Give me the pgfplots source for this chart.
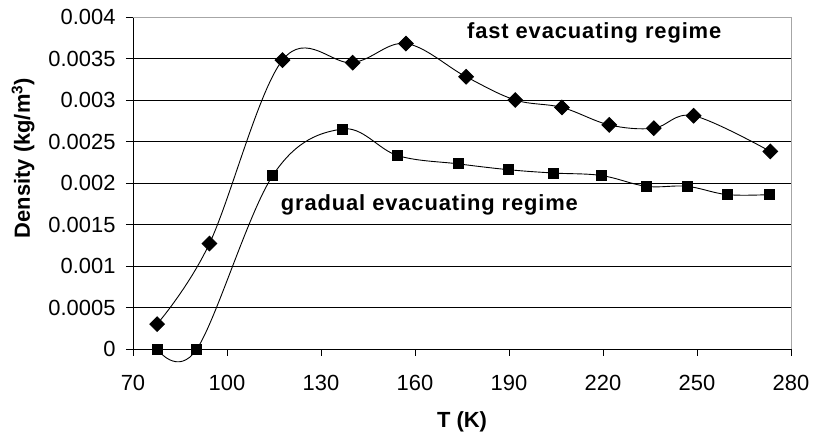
\documentclass[border=0pt]{standalone}
\usepackage{pgfplots}
\usepackage{pgfplotstable}
\pgfplotsset{compat=1.18}
\usepackage{fontspec}
\setmainfont{Liberation Sans}
\newfontfamily\annfont[LetterSpace=4]{Liberation Sans}
\usetikzlibrary{calc}

% fast evacuating regime (diamonds)
\pgfplotstableread{
T rho
77.7 0.00030
94.4 0.00127
117.7 0.00348
140.1 0.00345
157.1 0.00368
176.3 0.00328
192.0 0.00300
206.9 0.00291
222.0 0.00270
236.2 0.00266
248.9 0.00281
273.4 0.00238
}\fast

% gradual evacuating regime (squares)
\pgfplotstableread{
T rho
77.7 0
90.4 0
114.6 0.00209
136.7 0.00265
154.5 0.00233
173.9 0.00223
189.9 0.00216
204.2 0.00212
219.5 0.00209
233.8 0.00196
246.8 0.00196
259.6 0.00186
273.1 0.00186
}\gradual

\begin{document}
\begin{tikzpicture}
\begin{axis}[
  scale only axis,
  width=658bp, height=332bp,
  xmin=70, xmax=280, ymin=0, ymax=0.004,
  xtick={70,100,130,160,190,220,250,280},
  ytick={0,0.0005,0.001,0.0015,0.002,0.0025,0.003,0.0035,0.004},
  scaled y ticks=false,
  yticklabel style={/pgf/number format/fixed, /pgf/number format/precision=4, xshift=-7bp},
  xticklabel style={yshift=-16bp},
  /pgf/number format/assume math mode=true,
  tick label style={font=\fontsize{22}{26}\selectfont},
  axis x line*=bottom, axis y line*=left,
  axis line style={black, line width=0.8bp},
  tick align=outside, major tick length=7bp,
  tick style={black, line width=0.8bp},
  ymajorgrids, major grid style={black, line width=0.8bp},
  xlabel={T (K)},
  ylabel={Density (kg/m\textsuperscript{3})},
  every axis x label/.style={at={(axis description cs:0.5,-0.219)}, anchor=center,
    font=\bfseries\fontsize{22}{26}\selectfont},
  every axis y label/.style={at={(axis description cs:-0.1672,0.575)}, rotate=90, anchor=center,
    font=\bfseries\fontsize{22}{26}\selectfont},
  clip=false,
]
\draw[gray!70, line width=0.8bp] (rel axis cs:0,1) -- (rel axis cs:1,1) -- (rel axis cs:1,0);

\addplot[black, line width=0.9bp, smooth, tension=0.6,
  mark=square*, mark size=5.2pt, mark options={rotate=45, solid}]
  table[x=T, y=rho] {\fast};
\addplot[black, line width=0.9bp, smooth, tension=0.6,
  mark=square*, mark size=5pt, mark options={solid}]
  table[x=T, y=rho] {\gradual};

\node[font=\annfont\bfseries\fontsize{22}{26}\selectfont] at (axis cs:217.2,0.00381) {fast evacuating regime};
\node[font=\annfont\bfseries\fontsize{22}{26}\selectfont] at (axis cs:164.6,0.00174) {gradual evacuating regime};
\end{axis}
\pgfresetboundingbox
\path ($(current axis.south west)+(-133bp,-87bp)$) rectangle ($(current axis.north east)+(22bp,17bp)$);
\end{tikzpicture}
\end{document}
